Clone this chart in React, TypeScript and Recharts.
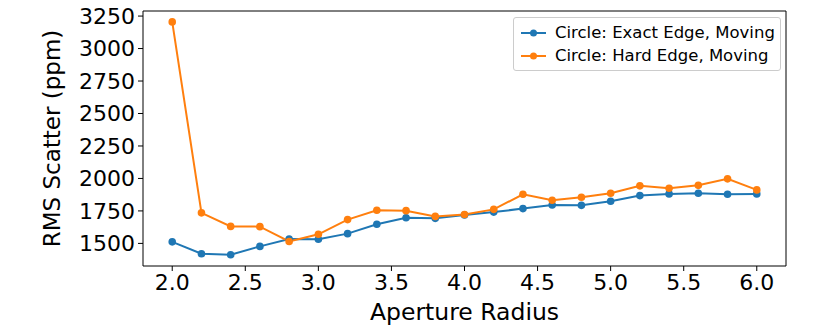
import { LineChart, Line, XAxis, YAxis } from "recharts";

const radii = [2.0, 2.2, 2.4, 2.6, 2.8, 3.0, 3.2, 3.4, 3.6, 3.8, 4.0, 4.2, 4.4, 4.6, 4.8, 5.0, 5.2, 5.4, 5.6, 5.8, 6.0];
const exactEdge = [1512, 1420, 1413, 1477, 1534, 1532, 1575, 1647, 1698, 1693, 1719, 1741, 1768, 1796, 1793, 1824, 1868, 1881, 1886, 1878, 1881];
const hardEdge = [3205, 1735, 1631, 1629, 1515, 1570, 1683, 1755, 1752, 1708, 1722, 1762, 1878, 1832, 1855, 1886, 1943, 1924, 1947, 1997, 1912];
const xTicks = [2.0, 2.5, 3.0, 3.5, 4.0, 4.5, 5.0, 5.5, 6.0];
const yTicks = [1500, 1750, 2000, 2250, 2500, 2750, 3000, 3250];

const seriesNames = ["Circle: Exact Edge, Moving", "Circle: Hard Edge, Moving"];
const BLUE = "#1f77b4";
const ORANGE = "#ff7f0e";
const FONT = "'DejaVu Sans', sans-serif";

const data = radii.map((r, i) => ({ r, exact: exactEdge[i], hard: hardEdge[i] }));

function LegendBox() {
  const items = [
    { name: seriesNames[0], color: BLUE },
    { name: seriesNames[1], color: ORANGE },
  ];
  return (
    <div
      style={{
        position: "absolute",
        left: 513,
        top: 17,
        width: 268,
        boxSizing: "border-box",
        border: "1px solid #cccccc",
        borderRadius: 3,
        background: "rgba(255,255,255,0.8)",
        padding: "3px 0 3px 7px",
        fontFamily: FONT,
        fontSize: 16.5,
        color: "#000",
        lineHeight: "23px",
      }}
    >
      {items.map((it) => (
        <div key={it.name} style={{ display: "flex", alignItems: "center", whiteSpace: "nowrap" }}>
          <svg width={25} height={10} style={{ marginRight: 9 }}>
            <line x1={0} y1={5} x2={25} y2={5} stroke={it.color} strokeWidth={2} />
            <circle cx={12.5} cy={5} r={3.5} fill={it.color} />
          </svg>
          <span>{it.name}</span>
        </div>
      ))}
    </div>
  );
}

export default function App() {
  return (
    <div style={{ position: "absolute", left: 0, top: 0, width: 830, height: 332, background: "#fff" }}>
      <LineChart width={830} height={332} data={data} margin={{ top: 10, right: 43, bottom: 0, left: 0 }}>
        <XAxis
          dataKey="r"
          type="number"
          domain={[1.8, 6.2]}
          ticks={xTicks}
          tickFormatter={(v: number) => v.toFixed(1)}
          allowDataOverflow
          stroke="#000"
          tickSize={5}
          tickMargin={3}
          height={66}
          tick={{ fill: "#000", fontSize: 22, fontFamily: FONT }}
          label={{ value: "Aperture Radius", position: "insideBottom", offset: 12, fill: "#000", fontSize: 23.5, fontFamily: FONT }}
        />
        <XAxis xAxisId="top" orientation="top" dataKey="r" type="number" domain={[1.8, 6.2]} height={1} tick={false} tickLine={false} stroke="#000" />
        <YAxis
          type="number"
          domain={[1326, 3289]}
          ticks={yTicks}
          allowDataOverflow
          stroke="#000"
          tickSize={5}
          tickMargin={3}
          width={143}
          tick={{ fill: "#000", fontSize: 22, fontFamily: FONT }}
          label={{ value: "RMS Scatter (ppm)", angle: -90, position: "insideLeft", offset: 52, fill: "#000", fontSize: 23, fontFamily: FONT, style: { textAnchor: "middle" } }}
        />
        <YAxis yAxisId="right" orientation="right" type="number" domain={[1326, 3289]} width={1} tick={false} tickLine={false} stroke="#000" />
        <Line
          dataKey="exact"
          name={seriesNames[0]}
          stroke={BLUE}
          strokeWidth={2}
          dot={{ r: 3.8, fill: BLUE, stroke: BLUE, strokeWidth: 0 }}
          activeDot={false}
          isAnimationActive={false}
        />
        <Line
          dataKey="hard"
          name={seriesNames[1]}
          stroke={ORANGE}
          strokeWidth={2}
          dot={{ r: 3.8, fill: ORANGE, stroke: ORANGE, strokeWidth: 0 }}
          activeDot={false}
          isAnimationActive={false}
        />
      </LineChart>
      <LegendBox />
    </div>
  );
}
